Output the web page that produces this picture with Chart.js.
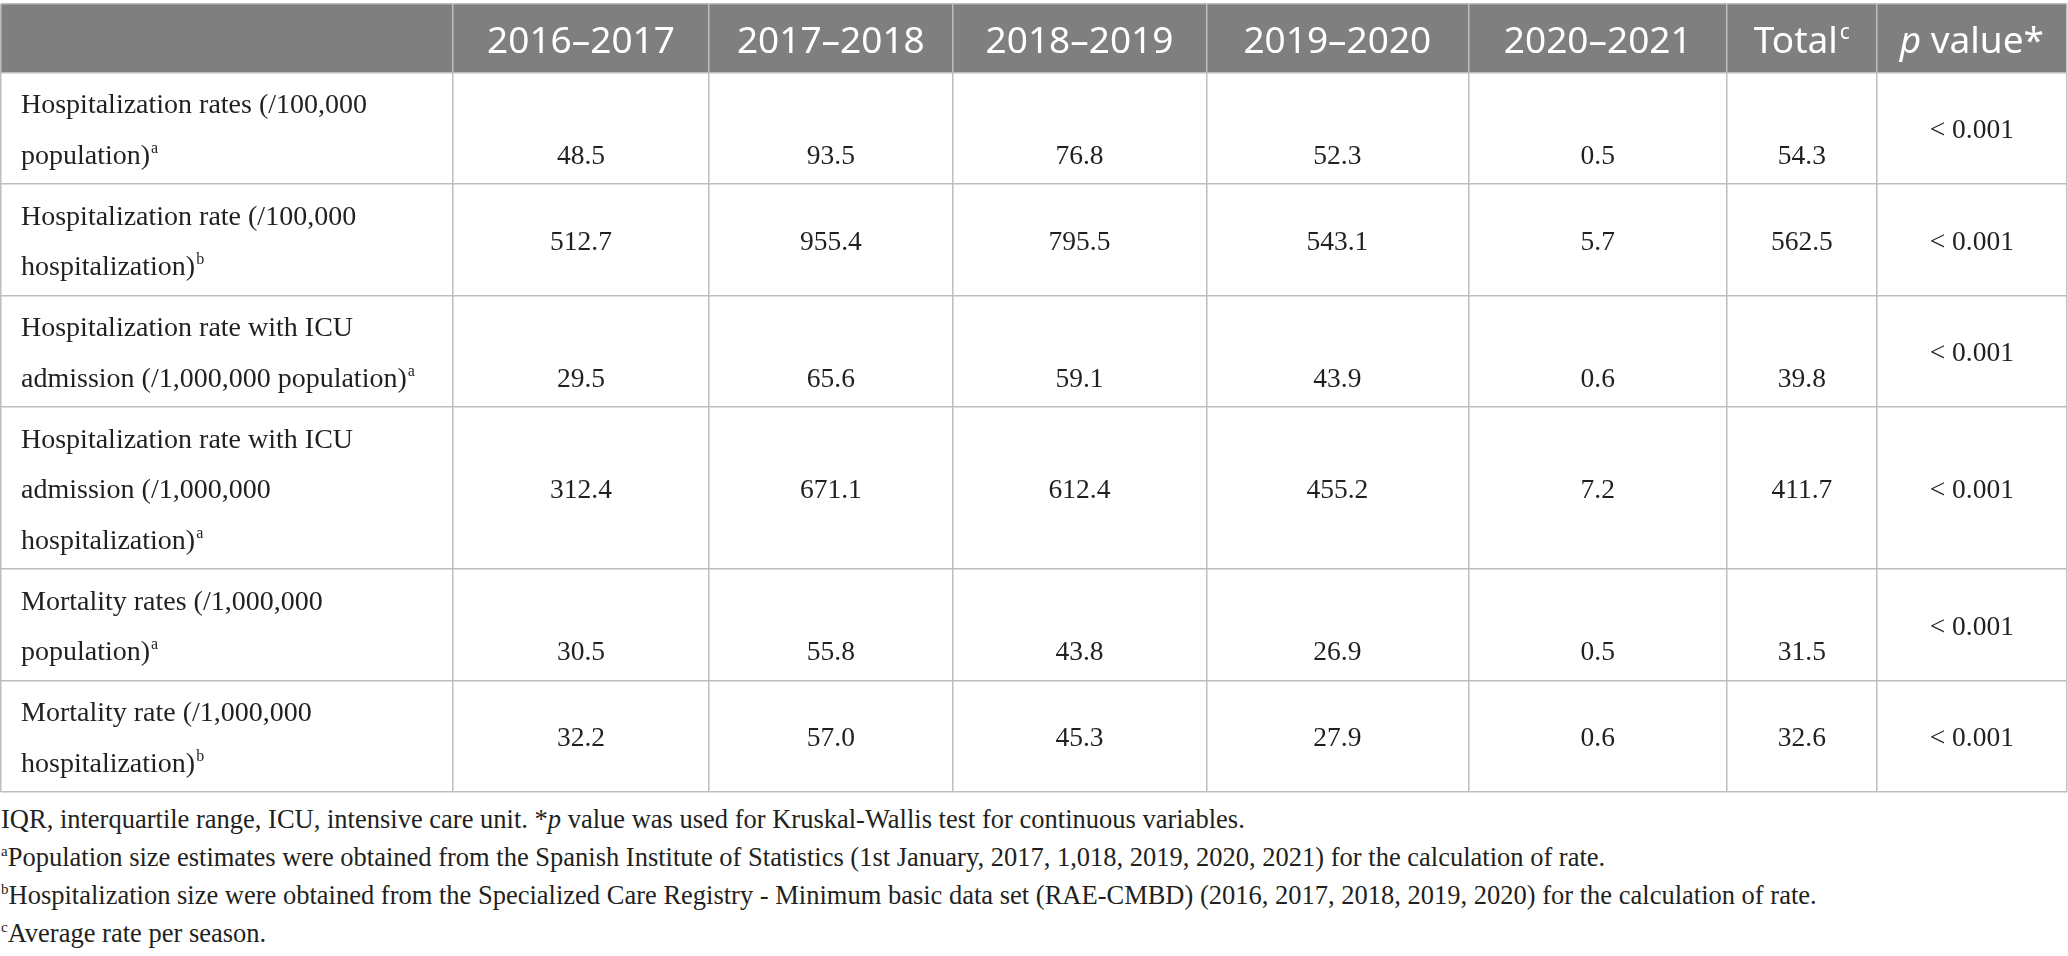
<!DOCTYPE html>
<html lang="en">
<head>
  <meta charset="UTF-8" />
  <title>Hospitalization, ICU admission and mortality rates by season</title>
  <script src="https://cdn.jsdelivr.net/npm/chart.js"></script>
  <style>
    body {
      margin: 0;
      background: #fff;
      color: #231f20;
    }
    .table-wrap {
      position: relative;
      width: 2068px;
      height: 800px;
    }
    .notes {
      font-family: 'Liberation Serif', 'Times New Roman', serif;
      font-size: 26.5px;
      line-height: 38px;
      padding-left: 1px;
    }
    .notes p {
      margin: 0;
      white-space: nowrap;
    }
    .notes sup {
      font-size: 15px;
      line-height: 0;
      vertical-align: 0;
      position: relative;
      top: -10px;
    }
  </style>
</head>
<body>

  <div class="table-wrap"><canvas id="rateTable"></canvas></div>

  <div class="notes">
    <p>IQR, interquartile range, ICU, intensive care unit. *<i>p</i> value was used for Kruskal-Wallis test for continuous variables.</p>
    <p><sup>a</sup>Population size estimates were obtained from the Spanish Institute of Statistics (1st January, 2017, 1,018, 2019, 2020, 2021) for the calculation of rate.</p>
    <p><sup>b</sup>Hospitalization size were obtained from the Specialized Care Registry - Minimum basic data set (RAE-CMBD) (2016, 2017, 2018, 2019, 2020) for the calculation of rate.</p>
    <p><sup>c</sup>Average rate per season.</p>
  </div>

  <script>
    // table content
    const seasons = ['2016–2017', '2017–2018', '2018–2019', '2019–2020', '2020–2021'];
    const rowLabels = [
      ['Hospitalization rates (/100,000', 'population)'],
      ['Hospitalization rate (/100,000', 'hospitalization)'],
      ['Hospitalization rate with ICU', 'admission (/1,000,000 population)'],
      ['Hospitalization rate with ICU', 'admission (/1,000,000', 'hospitalization)'],
      ['Mortality rates (/1,000,000', 'population)'],
      ['Mortality rate (/1,000,000', 'hospitalization)']
    ];
    const rowMarks = ['a', 'b', 'a', 'a', 'a', 'b'];
    const rates1617 = [48.5, 512.7, 29.5, 312.4, 30.5, 32.2];
    const rates1718 = [93.5, 955.4, 65.6, 671.1, 55.8, 57.0];
    const rates1819 = [76.8, 795.5, 59.1, 612.4, 43.8, 45.3];
    const rates1920 = [52.3, 543.1, 43.9, 455.2, 26.9, 27.9];
    const rates2021 = [0.5, 5.7, 0.6, 7.2, 0.5, 0.6];
    const totals = [54.3, 562.5, 39.8, 411.7, 31.5, 32.6];
    const pValues = ['< 0.001', '< 0.001', '< 0.001', '< 0.001', '< 0.001', '< 0.001'];

    // layout (table units = px)
    const colWidths = [452, 256.5, 243.5, 254, 262, 259, 149.5, 190.5];
    const headerH = 68.5;
    const lineH = 50.5;
    const firstBase = 40.5;
    const rowPad = 10.5;
    const onLastLine = [true, false, true, false, true, false];

    const serif = '"Liberation Serif", "Times New Roman", serif';
    const sans = '"Noto Sans", "Open Sans", sans-serif';
    const lineColor = '#bdbdbd';

    const xEdges = [0];
    colWidths.forEach(w => xEdges.push(xEdges[xEdges.length - 1] + w));
    const rowHeights = rowLabels.map(l => rowPad + lineH * l.length);
    const yEdges = [0, headerH];
    rowHeights.forEach(h => yEdges.push(yEdges[yEdges.length - 1] + h));
    const tableW = xEdges[xEdges.length - 1];
    const tableH = yEdges[yEdges.length - 1];

    const colMid = c => (xEdges[c] + xEdges[c + 1]) / 2;
    const rowTop = r => yEdges[r + 1];
    const rowMid = r => (yEdges[r + 1] + yEdges[r + 2]) / 2;

    function cellBase(r, isP) {
      if (onLastLine[r] && !isP) return rowTop(r) + firstBase + lineH * (rowLabels[r].length - 1);
      return rowMid(r) + 10;
    }

    const columns = [rates1617, rates1718, rates1819, rates1920, rates2021, totals];
    const datasets = columns.map((vals, i) => ({
      label: i < seasons.length ? seasons[i] : 'Total',
      data: vals.map((v, r) => ({ x: colMid(i + 1), y: cellBase(r, false), text: v.toFixed(1) }))
    }));
    datasets.push({
      label: 'p value',
      data: pValues.map((v, r) => ({ x: colMid(7), y: cellBase(r, true), text: v }))
    });

    function drawSup(ctx, text, sup, x, y, size) {
      ctx.fillText(text, x, y);
      if (!sup) return;
      const w = ctx.measureText(text).width;
      const font = ctx.font;
      ctx.font = Math.round(size * 0.58) + 'px ' + serif;
      ctx.fillText(sup, x + w + 1, y - size * 0.38);
      ctx.font = font;
    }

    const tablePlugin = {
      id: 'tablePlugin',
      beforeDraw(chart) {
        const { ctx, scales: { x, y } } = chart;
        ctx.save();
        ctx.fillStyle = '#7f7f7f';
        const top = y.getPixelForValue(0);
        ctx.fillRect(x.left, top, x.right - x.left, y.getPixelForValue(headerH) - top);
        ctx.restore();
      },
      afterDatasetsDraw(chart) {
        const { ctx, scales: { x, y } } = chart;
        ctx.save();

        // header
        const headBase = y.getPixelForValue(49.3);
        const hf = '37px ' + sans;
        ctx.fillStyle = '#ffffff';
        ctx.textBaseline = 'alphabetic';
        ctx.font = hf;
        ctx.textAlign = 'center';
        seasons.forEach((s, i) => ctx.fillText(s, x.getPixelForValue(colMid(i + 1)), headBase));
        // Total with superscript c
        ctx.textAlign = 'left';
        const tw = ctx.measureText('Total').width;
        ctx.font = '21px ' + sans;
        const cw = ctx.measureText('c').width;
        let sx = x.getPixelForValue(colMid(6)) - (tw + cw + 2) / 2;
        ctx.font = hf;
        ctx.fillText('Total', sx, headBase);
        ctx.font = '21px ' + sans;
        ctx.fillText('c', sx + tw + 2, headBase - 14);
        // p value*
        ctx.font = 'italic ' + hf;
        const pw = ctx.measureText('p').width;
        ctx.font = hf;
        const vw = ctx.measureText(' value*').width;
        sx = x.getPixelForValue(colMid(7)) - (pw + vw) / 2;
        ctx.font = 'italic ' + hf;
        ctx.fillText('p', sx, headBase);
        ctx.font = hf;
        ctx.fillText(' value*', sx + pw, headBase);

        // row labels
        ctx.fillStyle = '#231f20';
        ctx.font = '28px ' + serif;
        ctx.textAlign = 'left';
        const lx = x.getPixelForValue(0) + 20;
        rowLabels.forEach((lines, r) => {
          lines.forEach((t, i) => {
            const py = y.getPixelForValue(rowTop(r) + firstBase + lineH * i);
            drawSup(ctx, t, i === lines.length - 1 ? rowMarks[r] : '', lx, py, 28);
          });
        });

        // cell values
        ctx.font = '27.5px ' + serif;
        ctx.textAlign = 'center';
        chart.data.datasets.forEach((ds, di) => {
          chart.getDatasetMeta(di).data.forEach((pt, i) => {
            ctx.fillText(ds.data[i].text, pt.x, pt.y);
          });
        });
        ctx.restore();
      }
    };

    new Chart(document.getElementById('rateTable'), {
      type: 'scatter',
      data: { datasets },
      options: {
        responsive: true,
        maintainAspectRatio: false,
        animation: false,
        events: [],
        layout: { padding: { top: 4, right: 1, bottom: 8, left: 1 } },
        elements: { point: { radius: 0, hoverRadius: 0 } },
        plugins: { legend: { display: false }, tooltip: { enabled: false } },
        scales: {
          x: {
            type: 'linear', min: 0, max: tableW,
            ticks: { display: false },
            grid: { color: lineColor, lineWidth: 1.5, drawTicks: false },
            border: { display: false },
            afterBuildTicks: s => { s.ticks = xEdges.map(v => ({ value: v })); }
          },
          y: {
            type: 'linear', reverse: true, min: 0, max: tableH,
            ticks: { display: false },
            grid: { color: lineColor, lineWidth: 1.5, drawTicks: false },
            border: { display: false },
            afterBuildTicks: s => { s.ticks = yEdges.map(v => ({ value: v })); }
          }
        }
      },
      plugins: [tablePlugin]
    });
  </script>
</body>
</html>
